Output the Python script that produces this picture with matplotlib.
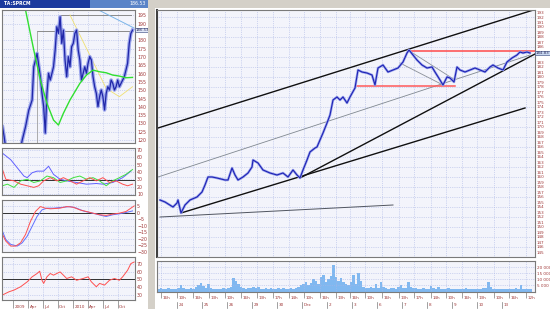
import numpy as np
import matplotlib
matplotlib.use("Agg")
import matplotlib.pyplot as plt
from matplotlib.patches import Rectangle

# ---------------- data: main (hourly) chart ----------------
main_bar = [1.2, 3.2, 6.4, 8, 8.4, 9.6, 11.2, 13.2, 16, 18, 19.2, 20.4, 22, 24, 27.2, 28.4,
            30, 31.2, 32.4, 34.4, 36.4, 38, 38.4, 40.4, 42.4, 45.2, 48, 50.4, 52.4, 54.4,
            56, 57.2, 58.4, 60, 61.2, 63.2, 64, 66.4, 68, 69.2, 70.4, 72, 73.2, 74.4, 76,
            77.2, 79.2, 80.4, 82, 84, 86, 87.2, 88.4, 90.4, 92.4, 94.4, 96.4, 98.4, 100,
            100.8, 102.4, 104, 106, 108, 110, 111.2, 113.2, 114.4, 116, 117.2, 118.8, 120,
            121.2, 123.2, 125.2, 127.2, 129.2, 131.2, 133.2, 134.4, 136.4, 138.4, 140, 142,
            144, 145.2, 146.4, 148, 149.2]
main_close = [155.4, 155.0, 154.0, 154.8, 155.4, 152.8, 154.4, 155.4, 156.0, 157.0, 158.4,
              160.0, 160.0, 159.8, 159.4, 159.4, 161.8, 160.4, 159.4, 160.0, 160.8, 162.0,
              163.4, 162.8, 161.4, 160.8, 160.4, 160.8, 160.0, 161.4, 160.4, 159.8, 161.4,
              163.4, 165.0, 165.8, 166.0, 168.8, 170.8, 172.4, 175.4, 176.0, 175.4, 176.0,
              174.8, 176.0, 177.8, 181.4, 181.0, 180.8, 180.4, 178.4, 181.8, 182.4, 181.0,
              181.4, 181.8, 183.0, 184.8, 185.4, 184.4, 183.4, 182.4, 181.8, 182.0, 181.0,
              179.4, 178.4, 180.0, 179.8, 179.0, 182.0, 181.4, 181.0, 181.4, 181.8, 181.4,
              181.0, 182.0, 182.4, 181.8, 181.4, 183.0, 183.8, 184.4, 185.0, 184.8, 185.0,
              184.8]
main_last_label = "184.83"
main_last_price = 184.8

# volume per hourly bar, thousands
volume_k = [2.0, 2.5, 1.8, 2.2, 3.0, 2.1, 1.9, 2.4, 3.2, 5.5,
            2.8, 2.2, 1.9, 2.5, 2.0, 3.5, 5.0, 7.0, 4.5, 3.0,
            6.5, 3.0, 2.4, 2.0, 1.8, 2.2, 2.9, 2.1, 2.5, 4.0,
            11.0, 9.0, 6.0, 3.5, 2.6, 2.2, 3.0, 2.5, 4.0, 2.8,
            3.5, 2.4, 2.0, 2.7, 2.2, 3.1, 2.0, 1.8, 2.5, 2.2,
            2.6, 2.0, 2.3, 3.0, 2.1, 2.5, 3.8, 5.0, 6.5, 8.0,
            5.5, 7.0, 10.0, 9.0, 6.0, 12.0, 14.0, 8.0, 10.5, 13.0,
            22.0, 12.0, 9.0, 11.0, 7.5, 6.0, 5.0, 8.0, 14.0, 6.0,
            15.0, 9.0, 4.0, 3.0, 2.6, 3.5, 2.5, 6.0, 3.0, 8.0,
            4.0, 2.8, 2.2, 3.0, 2.5, 2.0, 3.5, 5.0, 3.0, 2.6,
            8.0, 4.0, 3.0, 2.5, 2.2, 2.0, 2.8, 2.4, 2.0, 4.5,
            2.5, 2.2, 4.0, 2.0, 1.8, 2.2, 2.5, 2.0, 1.8, 2.4,
            2.0, 1.8, 2.2, 2.6, 2.0, 1.9, 2.3, 2.1, 1.8, 2.0,
            2.5, 3.0, 8.0, 3.5, 2.2, 2.0, 1.8, 2.1, 2.4, 2.0,
            1.9, 2.2, 2.0, 2.6, 2.1, 5.0, 2.4, 2.0, 1.8, 2.2]

# drawn trend lines: (bar0, price0, bar1, price1)
channel_upper = (0.4, 169.8, 151.2, 193.5)
channel_mid = (0.4, 160.0, 149.2, 184.4)
trend_low = (9.6, 152.8, 147.2, 173.8)
trend_steep = (57.2, 159.8, 151.2, 184.6)
trend_flat = (1.2, 152.0, 94.4, 154.4)
desc_a = (100.4, 185.4, 119.2, 179.4)
desc_b = (97.2, 182.8, 114.4, 178.4)
red_top = (100.8, 185.3, 151.2, 185.3)
red_low = (80.0, 178.2, 119.2, 178.2)

hour_tick_pos = [1.6, 8, 14.4, 20.8, 27.2, 33.6, 40, 46.4, 52.8, 58.8, 65.2, 71.6, 77.2,
                 83.2, 90, 96.8, 102.8, 109.6, 115.6, 122, 128, 134.8, 140.8, 147.6]
hour_labels = ["16h", "10h", "16h", "13h", "10h", "16h", "13h", "17h", "14h", "10h", "16h",
               "13h", "16h", "10h", "16h", "13h", "17h", "14h", "10h", "16h", "13h", "10h",
               "16h", "12h"]
day_tick_pos = [8, 18, 28, 38, 48, 58, 68, 78, 88, 98, 108, 118, 128, 138]
day_labels = ["24", "25", "26", "29", "30", "Dec", "2", "3", "6", "7", "8", "9", "10", "13"]

# ---------------- data: left (daily, 2 years) ----------------
left_close = [128, 122, 115, 112, 110, 108, 107, 108, 109, 110, 112, 115, 120, 124, 128, 133,
              138.1, 141, 144.1, 164.1, 168, 172.2, 165, 158.1, 148.1, 140.1, 124.2, 148.1,
              160.2, 156.1, 160, 164.1, 174.2, 188.2, 184.2, 194.2, 178.2, 186.2, 168.2,
              158.1, 170.2, 164.1, 176.2, 178.2, 184.2, 186.2, 174.2, 168.2, 156.1, 160.2,
              164.1, 160.2, 166.2, 170.2, 168.2, 158.1, 152.1, 148.1, 140.1, 146.1, 150.1,
              146.1, 138.1, 148.1, 152.1, 150.1, 156.1, 154.1, 150.1, 152.1, 156.1, 152.1,
              154.1, 156.1, 158.1, 162.1, 166.2, 178.2, 184.2, 186.2]
left_last_label = "186.53"
left_last_price = 186.2
ma_w = [13, 14, 19, 23, 27, 31, 34, 37, 41, 47, 51, 55, 59, 63, 67, 71, 75, 79]
ma_val = [205, 198.3, 174.2, 156.1, 142.1, 132.0, 129.0, 136.1, 144.1, 154.1, 159.1, 162.1,
          161.1, 160.5, 159.1, 158.5, 157.5, 157.7]
yel_w = [41, 63, 71, 79]
yel_val = [195.3, 151.1, 146.1, 152.1]
lblue_line = (57, 199.0, 80, 187.4)
box_top = (35, 195.3, 78, 195.3)
box_mid = (21, 185.8, 79, 185.8)
box_vert = (21, 185.8, 21, 117)

adx_blue_w = [0, 5, 9, 13, 15, 18, 21, 25, 28, 31, 35, 39, 45, 51, 57, 61, 67, 73, 78]
adx_blue = [65.6, 56.7, 45.6, 34.4, 32.2, 38.9, 41.1, 41.1, 47.8, 36.7, 30, 27.8, 25.6, 23.3,
            24.2, 23.3, 25.6, 32.2, 41.1]
adx_red_w = [0, 2, 7, 11, 15, 19, 22, 25, 29, 33, 37, 41, 45, 49, 53, 57, 61, 65, 69, 73, 76, 79]
adx_red = [43.3, 30, 27.8, 23.3, 21.1, 18.9, 21.1, 27.8, 32.2, 27.8, 32.2, 27.8, 23.3, 27.8,
           32.2, 27.8, 32.2, 25.6, 27.8, 23.3, 21.1, 23.3]
adx_green_w = [0, 3, 7, 11, 15, 19, 23, 27, 31, 35, 39, 43, 47, 51, 55, 59, 63, 67, 71, 75, 79]
adx_green = [21.1, 23.3, 18.9, 27.8, 30, 25.6, 27.8, 34.4, 32.2, 25.6, 27.8, 32.2, 34.4, 30,
             32.2, 27.8, 21.1, 27.8, 32.2, 36.7, 43.3]
adx_level = 29

macd_red_w = [0, 2, 5, 8, 11, 14, 17, 20, 23, 26, 29, 35, 39, 43, 47, 51, 55, 59, 63, 67, 71,
              75, 78, 80]
macd_red = [-16.7, -21.7, -25.5, -25.5, -23, -16.7, -6.7, 0.75, 4.5, 3.3, 2.8, 3.3, 4.5, 4, 2,
            0.75, -0.5, -1.7, -2.2, -1.2, -0.5, 0.75, 3.3, 5]
macd_blue_w = [0, 2, 5, 9, 12, 15, 18, 21, 24, 27, 31, 37, 41, 45, 49, 53, 57, 61, 63, 67, 71,
               75, 79]
macd_blue = [-14.2, -20.5, -24.2, -25.5, -23, -18, -10.5, -3, 2, 3.3, 3.3, 4, 4.5, 3.3, 1.2, 0,
             -1.2, -2.5, -3, -1.7, -1, 0, 1.2]

rsi_w = [0, 2, 4, 7, 11, 15, 18, 21, 22.6, 24, 25, 27, 29, 31, 33, 35, 37, 39, 42, 45, 49, 52,
         54, 57, 59, 62, 65, 68, 71, 73, 76, 78, 80]
rsi_val = [30.4, 32.5, 34.5, 36.6, 40.8, 47, 53.3, 57.5, 60.4, 49, 45, 53.3, 57.5, 55.4, 57.5,
           59.5, 55.4, 51.2, 53.3, 49, 51.2, 53.3, 47, 40.8, 45, 42.9, 49, 51.2, 49, 53.3, 61.6,
           70, 72]

left_tick_pos = [6.6, 15.6, 24.6, 33.6, 43, 52, 61, 70]
left_tick_labels = ["2009", "Apr", "Jul", "Oct", "2010", "Apr", "Jul", "Oct"]

# ---------------- figure ----------------
W, H = 550, 309
fig = plt.figure(figsize=(5.5, 3.09), dpi=100, facecolor="#ffffff")
GRID = "#aab6e6"
FACE = "#f3f4fb"
LAB = "#a03838"
FRAME = "#7a7a7a"


def fax(x0, y0, x1, y1):
    a = fig.add_axes([x0 / W, 1 - y1 / H, (x1 - x0) / W, (y1 - y0) / H])
    a.set_facecolor(FACE)
    for s in a.spines.values():
        s.set_color(FRAME)
        s.set_linewidth(0.8)
    a.tick_params(length=0, labelsize=3.4, labelcolor=LAB, pad=1.5)
    a.yaxis.tick_right()
    return a


def seg(a, s, **kw):
    a.plot([s[0], s[2]], [s[1], s[3]], **kw)


# chrome: title bars and separator
fig.patches.append(Rectangle((0, 1 - 7.5 / H), 148 / W, 7.5 / H, transform=fig.transFigure,
                             facecolor="#1c3a9e", edgecolor="none"))
fig.patches.append(Rectangle((90 / W, 1 - 7.5 / H), 58 / W, 7.5 / H, transform=fig.transFigure,
                             facecolor="#5a84c8", edgecolor="none"))
fig.patches.append(Rectangle((148 / W, 1 - 7.5 / H), 402 / W, 7.5 / H, transform=fig.transFigure,
                             facecolor="#d4d0c8", edgecolor="none"))
fig.patches.append(Rectangle((148 / W, 0), 7 / W, 1 - 7.5 / H, transform=fig.transFigure,
                             facecolor="#d4d0c8", edgecolor="none"))
fig.text(4 / W, 1 - 3.8 / H, "TA:SPRCM", color="white", fontsize=3.3, va="center",
         fontweight="bold")
fig.text(146 / W, 1 - 3.8 / H, left_last_label, color="white", fontsize=3.3, va="center",
         ha="right")

# ---------------- main chart ----------------
ax = fax(157, 10, 535, 257)
ax.set_xlim(0, 151.2)
ax.set_ylim(144.0, 193.4)
ax.spines["left"].set_color("#404040")
ax.spines["left"].set_linewidth(1.5)
ax.set_xticks(hour_tick_pos)
ax.set_xticklabels([])
ax.grid(axis="x", color=GRID, lw=0.5, ls=":")
for v in range(146, 194, 2):
    ax.axhline(v, color=GRID, lw=0.5, ls=":", zorder=0)
# tick labels hidden under the last-price box are left out
ax.set_yticks([v for v in range(145, 194) if abs(v - main_last_price) > 1.0])
ax.tick_params(axis="y", labelsize=3.0, pad=1.2)

seg(ax, channel_upper, color="#101010", lw=1.0)
seg(ax, channel_mid, color="#808890", lw=0.6)
seg(ax, trend_low, color="#101010", lw=1.0)
seg(ax, trend_steep, color="#101010", lw=1.0)
seg(ax, trend_flat, color="#505560", lw=0.7)
seg(ax, desc_a, color="#8a9098", lw=0.6)
seg(ax, desc_b, color="#8a9098", lw=0.6)
seg(ax, red_top, color="#ff4a4a", lw=1.1)
seg(ax, red_low, color="#ff5a5a", lw=1.1)
ax.plot(main_bar, main_close, color="#9aa4ec", lw=1.8, solid_capstyle="round")
ax.plot(main_bar, main_close, color="#1e22b4", lw=0.8)
ax.text(1.002, main_last_price, main_last_label, transform=ax.get_yaxis_transform(),
        fontsize=2.8, color="#303060", va="center", ha="left",
        bbox=dict(boxstyle="square,pad=0.1", facecolor="#c8d8f0", edgecolor="#506090", lw=0.5))

# volume
av = fax(157, 261, 535, 291.5)
av.set_xlim(0, 151.2)
av.set_ylim(0, 25400)
av.bar(np.arange(len(volume_k)) + 0.5, np.array(volume_k) * 1000, width=1.0,
       color="#80b8f0", edgecolor="none")
av.set_xticks(hour_tick_pos)
av.set_xticklabels([])
av.grid(axis="x", color=GRID, lw=0.5, ls=":")
av.set_yticks([5000, 10000, 15000, 20000])
av.set_yticklabels(["5 000", "10 000", "15 000", "20 000"])
av.tick_params(axis="y", labelsize=3.0)
av.grid(axis="y", color=GRID, lw=0.5, ls=":")
av.tick_params(axis="x", length=4, direction="out", color=FRAME, width=0.5)
for p, t in zip(hour_tick_pos, hour_labels):
    av.text(p + 0.6, -0.22, t, transform=av.get_xaxis_transform(), fontsize=3.0, color=LAB,
            ha="left", va="center")
for p, t in zip(day_tick_pos, day_labels):
    av.text(p + 0.6, -0.45, t, transform=av.get_xaxis_transform(), fontsize=3.0, color=LAB,
            ha="left", va="center")
    av.plot([p, p], [-0.34, -0.55], transform=av.get_xaxis_transform(), color=FRAME, lw=0.5,
            clip_on=False)

# ---------------- left main ----------------
al = fax(2, 10, 135, 143)
al.set_xlim(-0.3, 80.5)
al.set_ylim(118.2, 198.3)
al.set_yticks([v for v in range(120, 200, 5) if abs(v - left_last_price) > 2.0])
al.set_xticks(left_tick_pos)
al.set_xticklabels([])
al.grid(color=GRID, lw=0.5, ls=":")
seg(al, box_top, color="#8a8a8a", lw=0.7)
seg(al, box_mid, color="#8a8a8a", lw=0.7)
seg(al, box_vert, color="#a0a0a0", lw=0.6)
seg(al, lblue_line, color="#7ab4e8", lw=0.7)
al.plot(yel_w, yel_val, color="#f0e070", lw=0.6)
w = np.arange(len(left_close))
al.plot(w, left_close, color="#9aa4ec", lw=2.6)
al.plot(w, left_close, color="#2026a8", lw=0.9)
al.plot(ma_w, ma_val, color="#30e030", lw=1.0)
al.text(1.002, left_last_price, left_last_label, transform=al.get_yaxis_transform(),
        fontsize=2.8, color="#303060", va="center", ha="left",
        bbox=dict(boxstyle="square,pad=0.1", facecolor="#e0e8f8", edgecolor="#506090", lw=0.5))

# ADX panel
a1 = fax(2, 148, 135, 195)
a1.set_xlim(-0.3, 80.5)
a1.set_ylim(8.5, 72.7)
a1.set_yticks(range(10, 80, 10))
a1.set_xticks(left_tick_pos)
a1.set_xticklabels([])
a1.grid(color=GRID, lw=0.5, ls=":")
a1.axhline(adx_level, color="#303030", lw=0.7)
a1.plot(adx_blue_w, adx_blue, color="#6060ff", lw=0.7)
a1.plot(adx_green_w, adx_green, color="#40e040", lw=0.7)
a1.plot(adx_red_w, adx_red, color="#ff5050", lw=0.7)

# MACD panel
a2 = fax(2, 200, 135, 252)
a2.set_xlim(-0.3, 80.5)
a2.set_ylim(-29.3, 9.5)
a2.set_yticks(range(-30, 10, 5))
a2.set_xticks(left_tick_pos)
a2.set_xticklabels([])
a2.grid(color=GRID, lw=0.5, ls=":")
a2.axhline(0, color="#303030", lw=0.7)
a2.plot(macd_blue_w, macd_blue, color="#6070ff", lw=0.7)
a2.plot(macd_red_w, macd_red, color="#ff5050", lw=0.7)

# RSI panel
a3 = fax(2, 257, 135, 300)
a3.set_xlim(-0.3, 80.5)
a3.set_ylim(24.1, 78.3)
a3.set_yticks(range(30, 80, 10))
a3.set_xticks(left_tick_pos)
a3.set_xticklabels([])
a3.grid(color=GRID, lw=0.5, ls=":")
a3.axhline(50, color="#303030", lw=0.7)
a3.plot(rsi_w, rsi_val, color="#ff5050", lw=0.7)
a3.tick_params(axis="x", length=6, direction="out", color=FRAME, width=0.5)
for p, t in zip(left_tick_pos, left_tick_labels):
    a3.text(p + 0.8, -0.17, t, transform=a3.get_xaxis_transform(), fontsize=3.0, color=LAB,
            ha="left", va="center")

fig.savefig("out.png", dpi=100, facecolor=fig.get_facecolor())
